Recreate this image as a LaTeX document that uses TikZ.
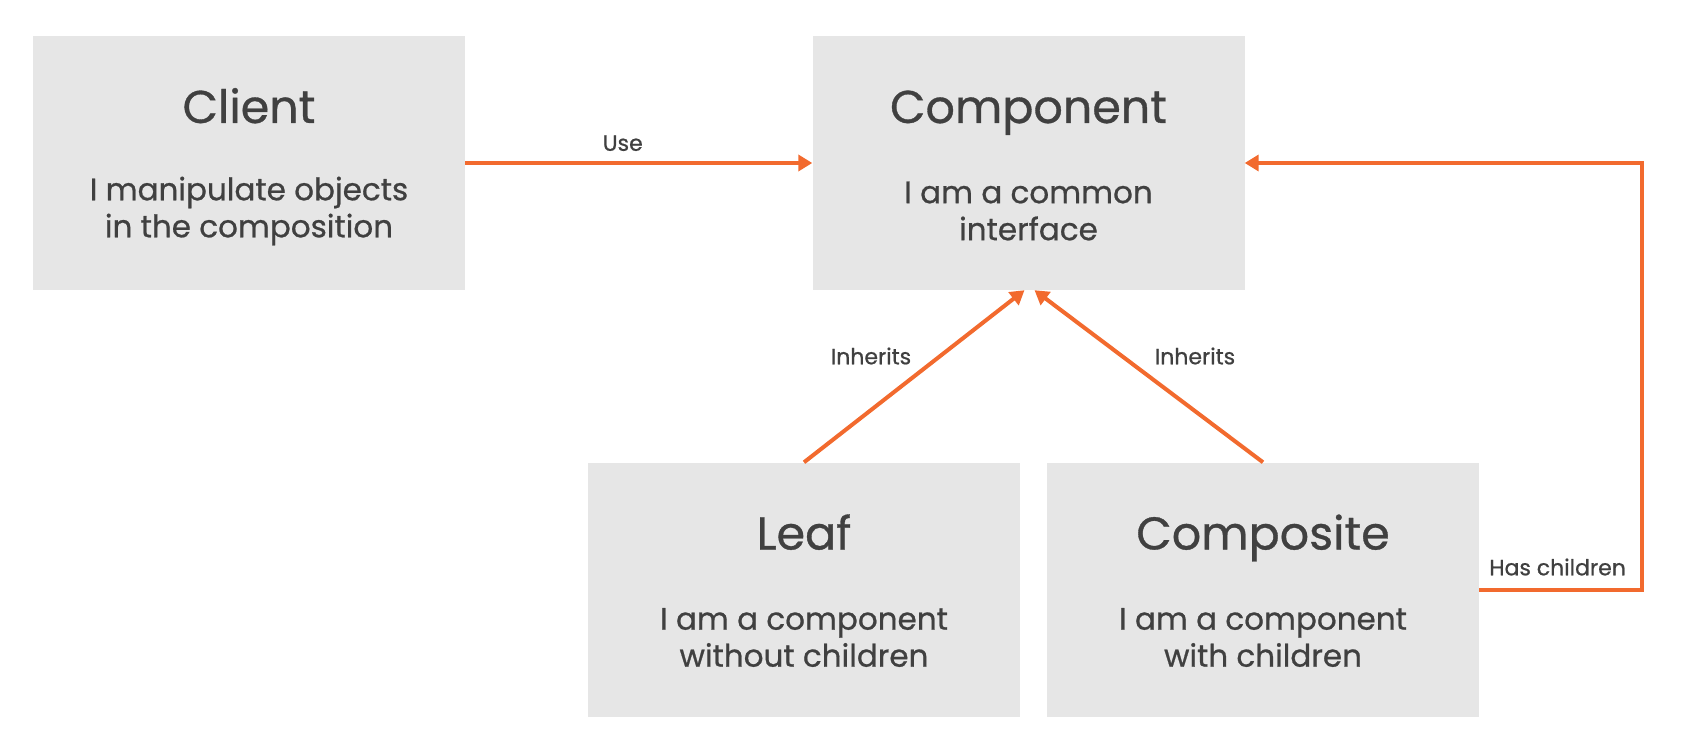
\documentclass[tikz,border=0pt]{standalone}
\usepackage{fontspec}
\setmainfont{Poppins}[FakeBold=0.7]
\usetikzlibrary{arrows.meta,calc}
\definecolor{boxgray}{HTML}{E6E6E6}
\definecolor{txt}{HTML}{404040}
\definecolor{orng}{HTML}{F26A2E}
\tikzset{
  box/.style={fill=boxgray,draw=none,minimum width=432pt,minimum height=254pt,inner sep=0pt},
  ttl/.style={text=txt,font=\fontsize{46}{54}\selectfont,inner sep=0pt,anchor=base},
  body/.style={text=txt,font=\fontsize{31}{37}\selectfont,align=center,inner sep=0pt,anchor=center},
  lbl/.style={text=txt,font=\fontsize{22}{26}\selectfont,inner sep=0pt},
  arr/.style={draw=orng,line width=4pt,-{Triangle[length=14pt,width=16pt]}},
  ln/.style={draw=orng,line width=4pt}
}
\begin{document}
\begin{tikzpicture}[x=1pt,y=-1pt]
\useasboundingbox (0,0) rectangle (1696,741);
\node[box] (client) at (249,163) {};
\node[box] (component) at (1028.5,163) {};
\node[box] (leaf) at (804,589.5) {};
\node[box] (composite) at (1263,589.5) {};
\node[ttl] (tclient) at ($(client.center)+(0,-40)$) {Client};
\node[body] (bclient) at ($(client.center)+(0,48)$) {I manipulate objects\\in the composition};
\node[ttl] (tcomponent) at ($(component.center)+(0,-40)$) {Component};
\node[body] (bcomponent) at ($(component.center)+(0,48)$) {I am a common\\interface};
\node[ttl] (tleaf) at ($(leaf.center)+(0,-40)$) {Leaf};
\node[body] (bleaf) at ($(leaf.center)+(0,48)$) {I am a component\\without children};
\node[ttl] (tcomposite) at ($(composite.center)+(0,-40)$) {Composite};
\node[body] (bcomposite) at ($(composite.center)+(0,48)$) {I am a component\\with children};
\draw[arr] (client) -- node[lbl,above=10pt,xshift=-16pt] (luse) {Use} (component);
\coordinate (cl) at ($(component.south)+(-4,0)$);
\coordinate (cr) at ($(component.south)+(6,0)$);
\draw[arr] (leaf.north) -- (cl);
\draw[arr] (composite.north) -- (cr);
\node[lbl] (linh1) at (871,356) {Inherits};
\node[lbl] (linh2) at (1195,356) {Inherits};
\coordinate (corner) at (1642,589.5);
\draw[arr] (composite.east) -- node[lbl,above=12pt,xshift=-3pt] (lhas) {Has children} (corner) |- (component.east);
\end{tikzpicture}
\end{document}
